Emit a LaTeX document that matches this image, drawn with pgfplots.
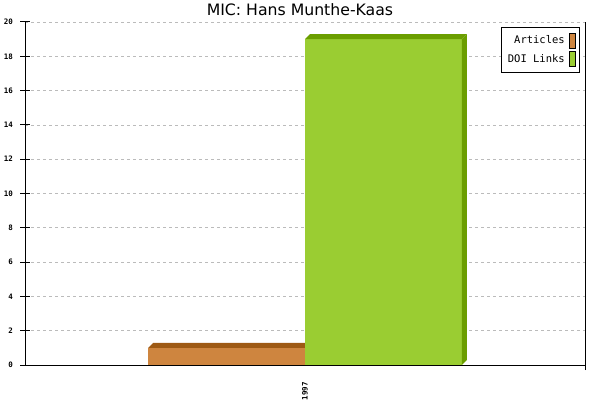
\documentclass[border=0pt]{standalone}
\usepackage{fontspec}
\setmainfont{DejaVu Sans}
\newfontfamily\monofont{DejaVu Sans Mono}
\usepackage{pgfplots}
\pgfplotsset{compat=1.18}

\definecolor{artfront}{HTML}{CE853F}
\definecolor{arttop}{HTML}{9E5A14}
\definecolor{doifront}{HTML}{9ACD32}
\definecolor{doiside}{HTML}{6B9E00}
\definecolor{gridgray}{HTML}{BBBBBB}

\begin{document}
\begin{tikzpicture}[x=1pt,y=1pt]
  \useasboundingbox (0,0) rectangle (600,400);
  \begin{axis}[
      at={(25pt,35pt)}, anchor=south west,
      scale only axis,
      width=560pt, height=343pt,
      xmin=-1, xmax=1,
      ymin=0, ymax=20,
      clip=false,
      axis lines*=left,
      axis line style={black, line width=1pt},
      ytick={0,2,...,20},
      xtick={0},
      xticklabels={1997},
      major x tick style={draw=none},
      extra x ticks={-1,1},
      extra x tick labels={},
      extra x tick style={major tick length=10pt, tick style={black, line width=1pt}},
      tick align=center,
      major tick length=9pt,
      tick style={black, line width=1pt},
      ymajorgrids,
      grid style={gridgray, dash pattern=on 3pt off 3pt, line width=0.8pt},
      /pgf/number format/assume math mode=true,
      yticklabel style={font=\monofont\bfseries\fontsize{7.5}{8}\selectfont, xshift=-4pt},
      xticklabel style={font=\monofont\bfseries\fontsize{7.5}{8}\selectfont, yshift=-9pt, rotate=90, anchor=east},
      title={MIC: Hans Munthe-Kaas},
      title style={at={(0.491,1)}, anchor=base, yshift=0pt, inner sep=0pt,
        font=\fontsize{15.7}{16}\selectfont},
      legend style={at={(0.991,0.985)}, anchor=north east, draw=black, line width=0.8pt,
        font=\monofont\fontsize{10.5}{12}\selectfont, inner xsep=4pt, inner ysep=5pt,
        row sep=3pt, column sep=2pt},
      legend plot pos=right,
      legend cell align=right,
      legend image code/.code={\draw[#1, draw=black, line width=0.8pt] (0pt,-7.5pt) rectangle (6pt,7.5pt);},
    ]
    % front faces
    \addplot[ybar, bar width=0.56, bar shift=-0.28, fill=artfront, draw=none]
      coordinates {(0,1)};
    \addlegendentry{Articles}
    % orange top face
    \addplot[fill=arttop, draw=none, forget plot]
      coordinates {(-0.56,1) (-0.542,1.29) (0.018,1.29) (0,1)} -- cycle;
    \addplot[ybar, bar width=0.56, bar shift=0.28, fill=doifront, draw=none]
      coordinates {(0,19)};
    \addlegendentry{DOI Links}
    % green side and top faces
    \addplot[fill=doiside, draw=none, forget plot]
      coordinates {(0.56,0) (0.578,0.29) (0.578,19.29) (0.56,19)} -- cycle;
    \addplot[fill=doiside, draw=none, forget plot]
      coordinates {(0,19) (0.018,19.29) (0.578,19.29) (0.56,19)} -- cycle;
    \draw[black, line width=1pt] (rel axis cs:1,-0.015) -- (rel axis cs:1,1);
  \end{axis}
\end{tikzpicture}
\end{document}
